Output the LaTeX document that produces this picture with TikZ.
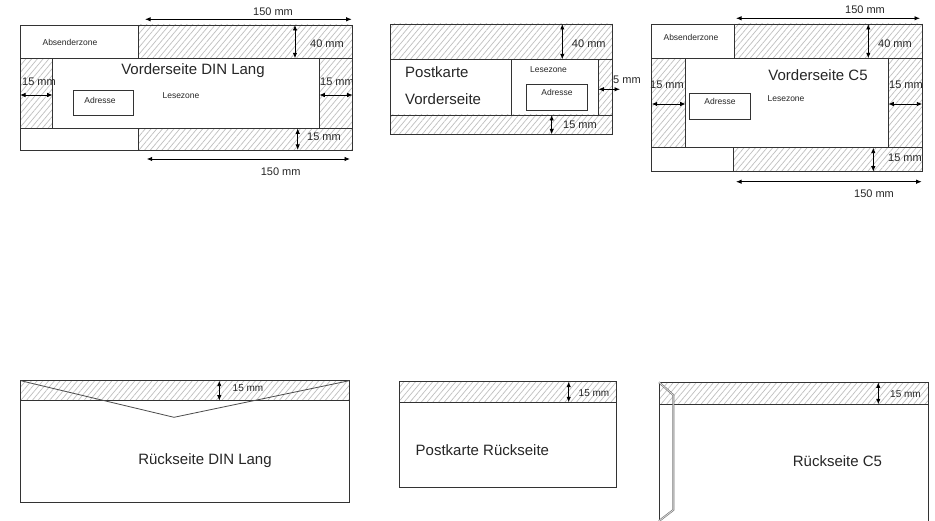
\documentclass[tikz,border=0pt]{standalone}
\usepackage{fontspec}
\setmainfont{Liberation Sans}
\usetikzlibrary{patterns.meta,arrows.meta}
\begin{document}
\begin{tikzpicture}[x=1pt,y=-1pt,
  hatch/.style={pattern={Lines[angle=50,distance=4.4pt,line width=0.7pt]},pattern color=black!25},
  box/.style={draw=black!80,line width=0.8pt},
  dim/.style={{Latex[length=5.5pt,width=4.5pt]}-{Latex[length=5.5pt,width=4.5pt]},line width=0.9pt,black},
  lbl/.style={font=\fontsize{11}{12}\selectfont,text=black!85,inner sep=0pt},
  lbls/.style={font=\fontsize{10}{11}\selectfont,text=black!85,inner sep=0pt},
  small/.style={font=\fontsize{8.5}{9}\selectfont,text=black!85,inner sep=0pt},
  ttl/.style={font=\fontsize{15}{17}\selectfont,text=black!85,inner sep=0pt},
  flap/.style={draw=black!55,double=black!12,double distance=0.7pt,line width=0.6pt}]
\useasboundingbox (0,0) rectangle (935,521);
\fill[white] (0,0) rectangle (935,521);

% ---------- Vorderseite DIN Lang ----------
\fill[hatch] (138.3,25) rectangle (352.7,58.3);
\fill[hatch] (20,58.3) rectangle (52.7,128.3);
\fill[hatch] (319.3,58.3) rectangle (352.7,128.3);
\fill[hatch] (138.3,128.3) rectangle (352.7,150);
\draw[box] (20,25) rectangle (352.7,150);
\draw[box] (20,58.3) -- (352.7,58.3) (20,128.3) -- (352.7,128.3)
  (138.3,25) -- (138.3,58.3) (138.3,128.3) -- (138.3,150)
  (52.7,58.3) -- (52.7,128.3) (319.3,58.3) -- (319.3,128.3);
\node[box,minimum width=60pt,minimum height=25pt,inner sep=0pt] (a1box) at (103.3,102.5) {};
\node[small] (a1adr) at (100,100.5) {Adresse};
\node[small] (a1abs) at (70,42.3) {Absenderzone};
\node[small] (a1les) at (181,96) {Lesezone};
\node[ttl] (a1t) at (193,71) {Vorderseite DIN Lang};
\coordinate (a1ta) at (145,19.3); \coordinate (a1tb) at (351.7,19.3);
\draw[dim] (a1ta) -- (a1tb);
\node[lbl] (a1tl) at (273,11.7) {150 mm};
\coordinate (a1va) at (295,25); \coordinate (a1vb) at (295,58.3);
\draw[dim] (a1va) -- (a1vb);
\node[lbl] (a1vl) at (327,44) {40 mm};
\coordinate (a1la) at (20,95); \coordinate (a1lb) at (52.7,95);
\draw[dim] (a1la) -- (a1lb);
\node[lbl,anchor=west] (a1ll) at (22,82) {15 mm};
\coordinate (a1ra) at (319.3,95); \coordinate (a1rb) at (352.7,95);
\draw[dim] (a1ra) -- (a1rb);
\node[lbl,anchor=west] (a1rl) at (320,82) {15 mm};
\coordinate (a1ba) at (297.7,128.3); \coordinate (a1bb) at (297.7,150);
\draw[dim] (a1ba) -- (a1bb);
\node[lbl] (a1bl) at (324,136.7) {15 mm};
\coordinate (a1ua) at (146.7,159); \coordinate (a1ub) at (350,159);
\draw[dim] (a1ua) -- (a1ub);
\node[lbl] (a1ul) at (280.7,171.7) {150 mm};

% ---------- Postkarte Vorderseite ----------
\fill[hatch] (390.7,24) rectangle (612.3,59.3);
\fill[hatch] (390.7,115) rectangle (612.3,134.3);
\fill[hatch] (598.3,59.3) rectangle (612.3,115);
\draw[box] (390.7,24) rectangle (612.3,134.3);
\draw[box] (390.7,59.3) -- (612.3,59.3) (390.7,115) -- (612.3,115)
  (511,59.3) -- (511,115) (598.3,59.3) -- (598.3,115);
\node[box,minimum width=61.3pt,minimum height=25.7pt,inner sep=0pt] (p1box) at (556.7,97.2) {};
\node[small] (p1adr) at (557,92.3) {Adresse};
\node[small] (p1les) at (548.5,70) {Lesezone};
\node[ttl,anchor=west] (p1t1) at (405,72.3) {Postkarte};
\node[ttl,anchor=west] (p1t2) at (405,99) {Vorderseite};
\coordinate (p1va) at (562.3,24); \coordinate (p1vb) at (562.3,59.3);
\draw[dim] (p1va) -- (p1vb);
\node[lbl] (p1vl) at (588.8,43.3) {40 mm};
\coordinate (p1ra) at (598.3,89.3); \coordinate (p1rb) at (620,89.3);
\draw[dim] (p1ra) -- (p1rb);
\node[lbl,anchor=west] (p1rl) at (613,80) {5 mm};
\coordinate (p1ba) at (551.7,115); \coordinate (p1bb) at (551.7,134.3);
\draw[dim] (p1ba) -- (p1bb);
\node[lbl] (p1bl) at (580,125) {15 mm};

% ---------- Vorderseite C5 ----------
\fill[hatch] (734.3,24) rectangle (922.3,58.3);
\fill[hatch] (651.7,58.3) rectangle (685.7,147.7);
\fill[hatch] (888.3,58.3) rectangle (922.3,147.7);
\fill[hatch] (733,147.7) rectangle (922.3,171.7);
\draw[box] (651.7,24) rectangle (922.3,171.7);
\draw[box] (651.7,58.3) -- (922.3,58.3) (651.7,147.7) -- (922.3,147.7)
  (734.3,24) -- (734.3,58.3) (733,147.7) -- (733,171.7)
  (685.7,58.3) -- (685.7,147.7) (888.3,58.3) -- (888.3,147.7);
\node[box,minimum width=61.7pt,minimum height=26pt,inner sep=0pt] (c1box) at (719.8,106.3) {};
\node[small] (c1adr) at (720,101.7) {Adresse};
\node[small] (c1abs) at (691,37.3) {Absenderzone};
\node[small] (c1les) at (786,98.3) {Lesezone};
\node[ttl] (c1t) at (818,75) {Vorderseite C5};
\coordinate (c1ta) at (736,18.3); \coordinate (c1tb) at (920,18.3);
\draw[dim] (c1ta) -- (c1tb);
\node[lbl] (c1tl) at (865,9.3) {150 mm};
\coordinate (c1va) at (868.3,24); \coordinate (c1vb) at (868.3,58.3);
\draw[dim] (c1va) -- (c1vb);
\node[lbl] (c1vl) at (895,43.3) {40 mm};
\coordinate (c1la) at (651.7,104); \coordinate (c1lb) at (685.7,104);
\draw[dim] (c1la) -- (c1lb);
\node[lbl,anchor=west] (c1ll) at (650,85) {15 mm};
\coordinate (c1ra) at (888.3,104); \coordinate (c1rb) at (922.3,104);
\draw[dim] (c1ra) -- (c1rb);
\node[lbl,anchor=west] (c1rl) at (889,85) {15 mm};
\coordinate (c1ba) at (873.3,147.7); \coordinate (c1bb) at (873.3,171.7);
\draw[dim] (c1ba) -- (c1bb);
\node[lbl] (c1bl) at (905,157.7) {15 mm};
\coordinate (c1ua) at (736,181.7); \coordinate (c1ub) at (921.7,181.7);
\draw[dim] (c1ua) -- (c1ub);
\node[lbl] (c1ul) at (874,194) {150 mm};

% ---------- Rueckseite DIN Lang ----------
\fill[hatch] (20.7,380.7) rectangle (349.3,400.7);
\draw[box] (20.7,380.7) rectangle (349.3,502.7);
\draw[box] (20.7,400.7) -- (349.3,400.7);
\draw[draw=black!70,line width=0.8pt] (20.7,380.7) -- (174,417.3) -- (349.3,380.7);
\coordinate (a2va) at (219.3,380.7); \coordinate (a2vb) at (219.3,400.7);
\draw[dim] (a2va) -- (a2vb);
\node[lbls] (a2vl) at (248,387.7) {15 mm};
\node[ttl] (a2t) at (205,461) {Rückseite DIN Lang};

% ---------- Postkarte Rueckseite ----------
\fill[hatch] (399,381.7) rectangle (616,402.3);
\draw[box] (399,381.7) rectangle (616,487.7);
\draw[box] (399,402.3) -- (616,402.3);
\coordinate (p2va) at (568.7,381.7); \coordinate (p2vb) at (568.7,402.3);
\draw[dim] (p2va) -- (p2vb);
\node[lbls] (p2vl) at (594,393.3) {15 mm};
\node[ttl,anchor=west] (p2t) at (415.5,450) {Postkarte Rückseite};

% ---------- Rueckseite C5 ----------
\fill[hatch] (659,382.3) rectangle (928.3,404.3);
\draw[box] (659,530) -- (659,382.3) -- (928.3,382.3) -- (928.3,530);
\draw[box] (659,404.3) -- (928.3,404.3);
\draw[flap] (659,382.3) -- (673.3,395) -- (673.3,510) -- (659,521);
\coordinate (c2va) at (878.3,382.3); \coordinate (c2vb) at (878.3,404.3);
\draw[dim] (c2va) -- (c2vb);
\node[lbls] (c2vl) at (905.5,394.3) {15 mm};
\node[ttl] (c2t) at (837.5,461) {Rückseite C5};
\end{tikzpicture}
\end{document}
